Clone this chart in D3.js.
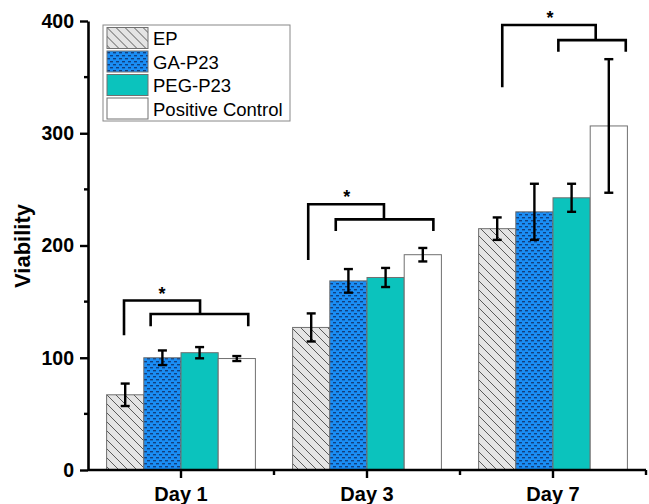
<!DOCTYPE html>
<html>
<head>
<meta charset="utf-8">
<script src="https://cdn.jsdelivr.net/npm/d3@7"></script>
<style>
  body { margin: 0; background: #fff; }
  svg { display: block; font-family: Arial, "Liberation Sans", sans-serif; }
</style>
</head>
<body>
<svg id="chart" width="649" height="504"></svg>
<script>
var days = ['Day 1', 'Day 3', 'Day 7'];
var groups = ['EP', 'GA-P23', 'PEG-P23', 'Positive Control'];
var epValues = [67, 127, 215];
var epErrors = [10, 12.5, 10];
var gaValues = [100, 168.5, 230];
var gaErrors = [6.5, 10.5, 25];
var pegValues = [104.5, 171.5, 242.5];
var pegErrors = [5, 8.5, 12.5];
var pcValues = [99.3, 191.8, 306.5];
var pcErrors = [2.2, 6, 59.5];
var yTicks = [0, 100, 200, 300, 400];

// significance brackets: x as fraction of each day's group, y in data units
var brackets = [
  { day: 'Day 1', outer: [0.117, 0.628], inner: [0.296, 0.952], top: 151, leg: 120, mid: 139, innerLeg: 128, star: 0.372 },
  { day: 'Day 3', outer: [0.105, 0.614], inner: [0.290, 0.946], top: 236.7, leg: 187, mid: 223.3, innerLeg: 213, star: 0.364 },
  { day: 'Day 7', outer: [0.159, 0.787], inner: [0.536, 0.989], top: 396.4, leg: 341, mid: 383, innerLeg: 372.6, star: 0.48 }
];

var seriesValues = [epValues, gaValues, pegValues, pcValues];
var seriesErrors = [epErrors, gaErrors, pegErrors, pcErrors];
var fills = ['url(#hatch)', 'url(#dots)', '#0bc3bd', '#ffffff'];

var svg = d3.select('#chart');

// patterns
var defs = svg.append('defs');
var hatch = defs.append('pattern')
    .attr('id', 'hatch')
    .attr('patternUnits', 'userSpaceOnUse')
    .attr('width', 9)
    .attr('height', 9);
hatch.append('rect')
    .attr('width', 9)
    .attr('height', 9)
    .attr('fill', '#e4e4e4');
hatch.append('path')
    .attr('d', 'M0,0 L9,9 M-1,8 L1,10 M8,-1 L10,1')
    .attr('stroke', '#4a4a4a')
    .attr('stroke-width', 0.9);

var dots = defs.append('pattern')
    .attr('id', 'dots')
    .attr('patternUnits', 'userSpaceOnUse')
    .attr('width', 6)
    .attr('height', 6);
dots.append('rect')
    .attr('width', 6)
    .attr('height', 6)
    .attr('fill', '#1a8ef5');
dots.append('rect')
    .attr('x', 0).attr('y', 1)
    .attr('width', 3).attr('height', 1.4)
    .attr('fill', '#12407f');
dots.append('rect')
    .attr('x', 3).attr('y', 4)
    .attr('width', 3).attr('height', 1.4)
    .attr('fill', '#12407f');

var x = d3.scaleBand()
  .domain(days)
  .range([88, 646])
  .paddingInner(0.2)
  .paddingOuter(0.1);

var x1 = d3.scaleBand()
  .domain(groups)
  .range([0, x.bandwidth()]);

var y = d3.scaleLinear()
  .domain([0, 400])
  .range([470, 21]);

// bars
var barData = [];
groups.forEach(function(g, gi) {
  days.forEach(function(d, di) {
    barData.push({ day: d, group: g, gi: gi, value: seriesValues[gi][di], err: seriesErrors[gi][di] });
  });
});

var bars = svg.append('g').attr('class', 'bars');
bars.selectAll('rect')
  .data(barData)
  .enter()
  .append('rect')
    .attr('x', function(d) { return x(d.day) + x1(d.group); })
    .attr('y', function(d) { return y(d.value); })
    .attr('width', x1.bandwidth())
    .attr('height', function(d) { return y(0) - y(d.value); })
    .attr('fill', function(d) { return fills[d.gi]; })
    .attr('stroke', '#707070')
    .attr('stroke-width', 1);

// error bars
var errG = svg.append('g').attr('class', 'errors')
    .attr('stroke', '#000')
    .attr('stroke-width', 2.4)
    .attr('fill', 'none');
barData.forEach(function(d) {
  var cx = x(d.day) + x1(d.group) + x1.bandwidth() / 2;
  var top = y(d.value + d.err), bot = y(d.value - d.err);
  errG.append('line').attr('x1', cx).attr('x2', cx).attr('y1', top).attr('y2', bot);
  errG.append('line').attr('x1', cx - 4.5).attr('x2', cx + 4.5).attr('y1', top).attr('y2', top);
  errG.append('line').attr('x1', cx - 4.5).attr('x2', cx + 4.5).attr('y1', bot).attr('y2', bot);
});

// brackets
var brG = svg.append('g').attr('class', 'brackets');
brackets.forEach(function(b) {
  var x0 = x(b.day), w = x.bandwidth();
  var ol = x0 + b.outer[0] * w, or = x0 + b.outer[1] * w;
  var il = x0 + b.inner[0] * w, ir = x0 + b.inner[1] * w;
  var path = d3.path();
  path.moveTo(ol, y(b.leg));
  path.lineTo(ol, y(b.top));
  path.lineTo(or, y(b.top));
  path.lineTo(or, y(b.mid));
  path.moveTo(il, y(b.innerLeg));
  path.lineTo(il, y(b.mid));
  path.lineTo(ir, y(b.mid));
  path.lineTo(ir, y(b.innerLeg));
  brG.append('path')
    .attr('d', path.toString())
    .attr('fill', 'none')
    .attr('stroke', '#000')
    .attr('stroke-width', 2.6);
  brG.append('text')
    .attr('x', x0 + b.star * w)
    .attr('y', y(b.top) - 1)
    .attr('text-anchor', 'middle')
    .attr('font-size', 18)
    .attr('font-weight', 'bold')
    .text('*');
});

// axes
var axisX = d3.axisBottom(x)
  .tickSize(8)
  .tickSizeOuter(0);
var gx = svg.append('g')
  .attr('transform', 'translate(0,470)')
  .call(axisX);
gx.select('.domain').attr('stroke-width', 2.6).attr('d', 'M88,0H646');
gx.selectAll('.tick line').attr('stroke-width', 2.4);
gx.selectAll('.tick text')
  .attr('dy', null)
  .attr('y', 31)
  .attr('font-size', 20)
  .attr('font-weight', 'bold')
  .attr('font-family', 'Arial, "Liberation Sans", sans-serif')
  .attr('fill', '#000');
// minor x ticks at group boundaries
days.forEach(function(d, i) {
  var bx = x(d) + x.bandwidth() / 2 + x.step() / 2;
  gx.append('line')
    .attr('x1', bx).attr('x2', bx)
    .attr('y1', 0).attr('y2', 5)
    .attr('stroke', '#000')
    .attr('stroke-width', 2.4);
});

var axisY = d3.axisLeft(y)
  .tickValues(yTicks)
  .tickSize(8)
  .tickSizeOuter(0);
var gy = svg.append('g')
  .attr('transform', 'translate(88,0)')
  .call(axisY);
gy.select('.domain').attr('stroke-width', 2.6);
gy.selectAll('.tick line').attr('stroke-width', 2.4);
gy.selectAll('.tick text')
  .attr('x', -14)
  .attr('font-size', 19.5)
  .attr('font-weight', 'bold')
  .attr('font-family', 'Arial, "Liberation Sans", sans-serif')
  .attr('fill', '#000');
// minor y ticks
[50, 150, 250, 350].forEach(function(v) {
  gy.append('line')
    .attr('x1', -4).attr('x2', 0)
    .attr('y1', y(v)).attr('y2', y(v))
    .attr('stroke', '#000')
    .attr('stroke-width', 2.4);
});

svg.append('text')
  .attr('transform', 'translate(30,246) rotate(-90)')
  .attr('text-anchor', 'middle')
  .attr('font-size', 22)
  .attr('font-weight', 'bold')
  .text('Viability');

// legend
var legend = svg.append('g').attr('transform', 'translate(103,25)');
legend.append('rect')
  .attr('width', 187)
  .attr('height', 96)
  .attr('fill', '#fff')
  .attr('stroke', '#888')
  .attr('stroke-width', 1);
groups.forEach(function(g, i) {
  var row = legend.append('g').attr('transform', 'translate(4,' + (2.5 + i * 23.5) + ')');
  row.append('rect')
    .attr('width', 41)
    .attr('height', 21)
    .attr('fill', fills[i])
    .attr('stroke', '#707070')
    .attr('stroke-width', 1);
  row.append('text')
    .attr('x', 46)
    .attr('y', 17.5)
    .attr('font-size', 18.5)
    .text(g);
});
</script>
</body>
</html>
